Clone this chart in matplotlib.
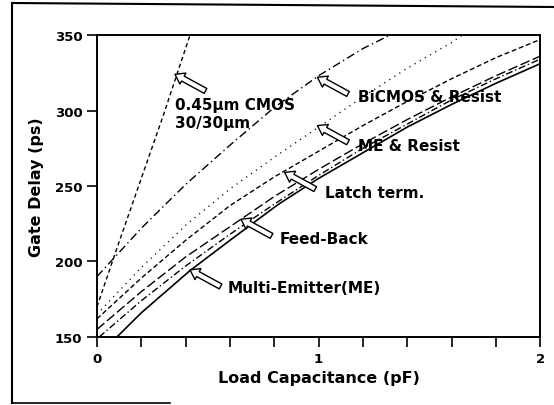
import matplotlib
matplotlib.use("Agg")
import matplotlib.pyplot as plt
from matplotlib.lines import Line2D

# Gate delay (ps) vs load capacitance (pF)
cmos_x = [0, 0.1, 0.2, 0.3, 0.42]
cmos_y = [170, 213, 255, 297, 350]

bicmos_x = [0, 0.2, 0.4, 0.6, 0.8, 1.0, 1.2, 1.35]
bicmos_y = [190, 222, 251, 277, 302, 323, 341, 352]

me_res_x = [0, 0.2, 0.4, 0.6, 0.8, 1.0, 1.2, 1.4, 1.6, 1.66]
me_res_y = [165, 196, 224, 248, 269, 289, 309, 328, 345, 351]

latch_x = [0, 0.2, 0.4, 0.6, 0.8, 1.0, 1.2, 1.4, 1.6, 1.8, 2.0]
latch_y = [162, 189, 214, 237, 256, 273, 290, 306, 321, 335, 347]

feed_x = [0, 0.2, 0.4, 0.6, 0.8, 1.0, 1.2, 1.4, 1.6, 1.8, 2.0]
feed_y = [155, 180, 203, 223, 243, 261, 278, 294, 309, 323, 336]

extra_x = [0.01, 0.2, 0.4, 0.6, 0.8, 1.0, 1.2, 1.4, 1.6, 1.8, 2.0]
extra_y = [150, 174, 197, 218, 238, 257, 275, 291, 307, 321, 334]

me_x = [0.09, 0.2, 0.42, 0.6, 0.82, 1.0, 1.2, 1.4, 1.6, 1.8, 2.0]
me_y = [150, 166, 194, 214, 238, 255, 272, 289, 304, 318, 331]

# labels: (text, x, y) and arrow tips
labels = [("0.45\u03bcm CMOS", 0.351, 304), ("30/30\u03bcm", 0.351, 292),
          ("BiCMOS & Resist", 1.176, 309.6), ("ME & Resist", 1.176, 276.5),
          ("Latch term.", 1.027, 246), ("Feed-Back", 0.824, 215),
          ("Multi-Emitter(ME)", 0.59, 183)]
arrow_tips = [(0.352, 324), (0.995, 322), (0.995, 290), (0.847, 259),
              (0.65, 228), (0.42, 194.5)]

plt.rcParams["font.family"] = "DejaVu Sans"
plt.rcParams["font.weight"] = "bold"

fig = plt.figure(figsize=(5.54, 4.06), dpi=100)
ax = fig.add_axes([0.175, 0.1675, 0.8, 0.7438])

k = dict(color="black", lw=1.0)
ax.plot(cmos_x, cmos_y, linestyle=(0, (3, 2.2)), **k)
ax.plot(bicmos_x, bicmos_y, linestyle=(0, (6, 2.5, 1, 2.5)), **k)
ax.plot(me_res_x, me_res_y, linestyle=(0, (0.8, 3.5)), **k)
ax.plot(latch_x, latch_y, linestyle=(0, (3.5, 2)), **k)
ax.plot(feed_x, feed_y, linestyle=(0, (7, 2.5)), **k)
ax.plot(extra_x, extra_y, linestyle=(0, (5, 2, 1, 2)), **k)
ax.plot(me_x, me_y, linestyle="-", color="black", lw=1.2)

for tip in arrow_tips:
    ax.annotate("", xy=tip, xytext=(22, -12), textcoords="offset points",
                arrowprops=dict(arrowstyle="simple,head_width=0.9,head_length=0.65,tail_width=0.4",
                                fc="white", ec="black", lw=1.0, shrinkA=0, shrinkB=0))

for txt, x, y in labels:
    ax.text(x, y, txt, fontsize=11, fontweight="bold", ha="left", va="center")

ax.set_xlim(0, 2)
ax.set_ylim(150, 350)
ax.set_xticks([0, 1, 2])
ax.set_xticks([0.2, 0.4, 0.6, 0.8, 1.2, 1.4, 1.6, 1.8], minor=True)
ax.set_yticks([150, 200, 250, 300, 350])
ax.tick_params(which="both", direction="out", length=7, width=1.2, labelsize=9.5)
for lab in ax.get_xticklabels() + ax.get_yticklabels():
    lab.set_fontweight("bold")
for s in ax.spines.values():
    s.set_linewidth(1.4)

ax.set_xlabel("Load Capacitance (pF)", fontsize=11.5, fontweight="bold", labelpad=4)
ax.set_ylabel("Gate Delay (ps)", fontsize=11.5, fontweight="bold", labelpad=8)

# outer frame (scanned border)
fig.add_artist(Line2D([12/554, 12/554], [1-5/406, 1-404/406], color="black", lw=1.5))
fig.add_artist(Line2D([12/554, 1.0], [1-4/406, 1-8/406], color="black", lw=1.5))
fig.add_artist(Line2D([12/554, 170/554], [1-404/406, 1-404/406], color="black", lw=1.2))

fig.savefig("out.png", dpi=100)
